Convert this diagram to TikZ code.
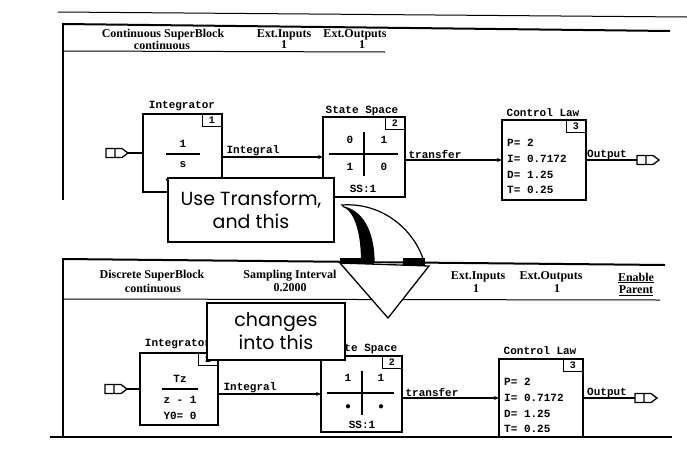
\documentclass[tikz,border=0pt]{standalone}
\usepackage{fontspec}
\setmainfont{Liberation Serif}
\newfontfamily\monof{Liberation Mono}
\newfontfamily\callf{Poppins}
\usetikzlibrary{arrows.meta,calc}
\tikzset{
 blk/.style={draw, line width=1.2pt, inner sep=0pt, outer sep=0pt, fill=white},
 idx/.style={draw, line width=1.1pt, inner sep=0pt, minimum width=19pt, minimum height=12pt, anchor=north east, font=\monof\bfseries\fontsize{10}{10}\selectfont},
 mt/.style={font=\monof\bfseries\fontsize{11}{11}\selectfont, inner sep=0pt},
 hd/.style={font=\bfseries\fontsize{12}{12}\selectfont, inner sep=0pt},
 conn/.style={line width=1.1pt, -{Stealth[length=5pt,width=4pt]}},
 plainln/.style={line width=1.1pt},
 callout/.style={draw, fill=white, line width=1.3pt, align=center, font=\callf\fontsize{19}{23}\selectfont, inner sep=0pt},
 portnd/.style={minimum width=22pt, minimum height=9pt, inner sep=0pt, outer sep=0pt},
 portln/.style={line width=1.3pt, fill=white},
}
\newcommand{\drawport}[1]{\filldraw[portln] (#1.north west) -- ([xshift=-6pt]#1.north east) -- (#1.east) -- ([xshift=-6pt]#1.south east) -- (#1.south west) -- cycle ([xshift=9pt]#1.north west) -- ([xshift=9pt]#1.south west);}
\begin{document}
\begin{tikzpicture}[x=1pt,y=-1pt]
\useasboundingbox[fill=white] (0,0) rectangle (687,453);
% ---------- top panel frame ----------
\draw[line width=1pt] (58,12) -- (687,17);
\draw[line width=2pt] (63,24) -- (670,31);
\draw[line width=2.8pt] (63,23) -- (63,200);
\draw[line width=1pt] (63,51) -- (385,52);
\node[hd] (h1a) at (163,35) {Continuous SuperBlock};
\node[hd] (h1b) at (162,45) {continuous};
\node[hd] (h1c) at (284,35) {Ext.Inputs};
\node[hd] (h1d) at (284,45) {1};
\node[hd] (h1e) at (355,35) {Ext.Outputs};
\node[hd] (h1f) at (362,45) {1};
% ---------- top blocks ----------
\node[blk, minimum width=79pt, minimum height=78pt] (int1) at (182.5,153) {};
\node[mt] (int1l) at (182,106) {Integrator};
\node[idx] (int1i) at (int1.north east) {1};
\node[mt] (int1n) at (183,144) {1};
\draw[plainln] (166,154) -- (200,154);
\node[mt] (int1d) at (183,165) {s};
\node[mt] (int1y) at (182,183) {Y0= 0};
\node[portnd] (pi1) at (117,153) {};
\drawport{pi1}
\draw[plainln] (pi1.east) -- (int1.west);

\node[blk, minimum width=82pt, minimum height=80pt] (ss1) at (364,157) {};
\node[mt] (ss1l) at (362,111) {State Space};
\node[idx] (ss1i) at (ss1.north east) {2};
\draw[line width=1.4pt] (329,154) -- (398,154);
\draw[line width=1.4pt] (364,132) -- (364,176);
\node[mt] (ss1a) at (350,140) {0};
\node[mt] (ss1b) at (384,140) {1};
\node[mt] (ss1c) at (350,167) {1};
\node[mt] (ss1d) at (384,167) {0};
\node[mt] (ss1s) at (363,189) {SS:1};

\node[blk, minimum width=84pt, minimum height=80pt] (cl1) at (544,160) {};
\node[mt] (cl1l) at (543,113) {Control Law};
\node[idx] (cl1i) at (cl1.north east) {3};
\node[mt, anchor=west] (cl1p) at (507,143) {P= 2};
\node[mt, anchor=west] (cl1q) at (507,159) {I= 0.7172};
\node[mt, anchor=west] (cl1r) at (507,175) {D= 1.25};
\node[mt, anchor=west] (cl1s) at (507,190) {T= 0.25};
\node[portnd] (po1) at (648,160) {};
\drawport{po1}

\draw[conn] (int1.east |- ss1.west) -- (ss1.west);
\node[mt] (lb1) at (253,151) {Integral};
\draw[conn] (ss1.east |- cl1.west) -- (cl1.west);
\node[mt] (lb2) at (435,154) {transfer};
\draw[plainln] (cl1.east) -- (po1.west);
\node[mt] (lb3) at (607,155) {Output};

% ---------- bottom panel frame ----------
\draw[line width=2pt] (63,259) -- (665,265);
\draw[line width=1pt] (63,299) -- (660,300);
\draw[line width=2.8pt] (63,258) -- (63,437);
\draw[line width=1.5pt] (50,437) -- (672,437);
\node[hd] (h2a) at (152,276) {Discrete SuperBlock};
\node[hd] (h2b) at (153,288) {continuous};
\node[hd] (h2c) at (290,276) {Sampling Interval};
\node[hd] (h2d) at (290,288) {0.2000};
\node[hd] (h2e) at (478,277) {Ext.Inputs};
\node[hd] (h2f) at (476,289) {1};
\node[hd] (h2g) at (551,277) {Ext.Outputs};
\node[hd] (h2h) at (557,289) {1};
\node[hd] (h2i) at (636,278) {\underline{Enable}};
\node[hd] (h2j) at (636,291) {\underline{Parent}};

% ---------- bottom blocks ----------
\node[blk, minimum width=78pt, minimum height=72pt] (int2) at (179,389) {};
\node[mt] (int2l) at (178,344) {Integrator};
\node[idx] (int2i) at (int2.north east) {1};
\node[mt] (int2n) at (180,379) {Tz};
\draw[plainln] (162,389) -- (198,389);
\node[mt] (int2d) at (180,400) {z - 1};
\node[mt] (int2y) at (180,416) {Y0= 0};
\node[portnd] (pi2) at (116,389) {};
\drawport{pi2}
\draw[plainln] (pi2.east) -- (int2.west);

\node[blk, minimum width=81pt, minimum height=76pt] (ss2) at (361.5,394) {};
\node[mt] (ss2l) at (361,349) {State Space};
\node[idx] (ss2i) at (ss2.north east) {2};
\draw[line width=1.4pt] (327,393) -- (394,393);
\draw[line width=1.4pt] (362,371) -- (362,415);
\node[mt] (ss2a) at (348,378) {1};
\node[mt] (ss2b) at (381,378) {1};
\node[mt] (ss2c) at (348,407) {$\bullet$};
\node[mt] (ss2d) at (381,407) {$\bullet$};
\node[mt] (ss2s) at (362,425) {SS:1};

\node[blk, minimum width=84pt, minimum height=78pt] (cl2) at (541,398) {};
\node[mt] (cl2l) at (540,351) {Control Law};
\node[idx] (cl2i) at (cl2.north east) {3};
\node[mt, anchor=west] (cl2p) at (504,382) {P= 2};
\node[mt, anchor=west] (cl2q) at (504,398) {I= 0.7172};
\node[mt, anchor=west] (cl2r) at (504,414) {D= 1.25};
\node[mt, anchor=west] (cl2s) at (504,429) {T= 0.25};
\node[portnd] (po2) at (646,398) {};
\drawport{po2}

\draw[conn] (int2.east |- ss2.west) -- (ss2.west);
\node[mt] (lb4) at (250,388) {Integral};
\draw[conn] (ss2.east |- cl2.west) -- (cl2.west);
\node[mt] (lb5) at (432,392) {transfer};
\draw[plainln] (cl2.east) -- (po2.west);
\node[mt] (lb6) at (607,393) {Output};

% ---------- big curved arrow ----------
\filldraw[fill=white, line width=1.2pt] (342,205) .. controls (385,202) and (416,233) .. (424,262) -- (374,262) .. controls (374,236) and (365,212) .. (344,207) -- cycle;
\fill[black] (344,207) .. controls (365,212) and (374,236) .. (374,262) -- (361,262) .. controls (361,236) and (356,214) .. (344,207) -- cycle;
\filldraw[fill=white, line width=1.3pt] (340,263) -- (429,266) -- (388,318) -- cycle;
\fill[black] (340,258) rectangle (374,264);
\fill[black] (403,258) rectangle (425,265);

% ---------- callouts ----------
\node[callout, minimum width=166pt, minimum height=64pt] (c1) at (251,210) {Use Transform,\\and this};
\node[callout, minimum width=138pt, minimum height=57pt] (c2) at (276,331.5) {changes\\into this};
\end{tikzpicture}
\end{document}
